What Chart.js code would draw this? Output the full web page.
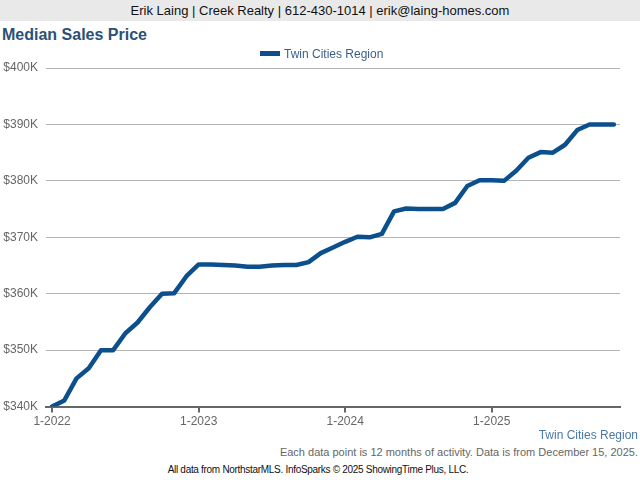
<!DOCTYPE html>
<html>
<head>
<meta charset="utf-8">
<script src="https://cdn.jsdelivr.net/npm/chart.js@4.4.1/dist/chart.umd.min.js"></script>
<style>
  body { margin: 0; width: 640px; height: 480px; background: #fff; font-family: "Liberation Sans", Arial, sans-serif; position: relative; overflow: hidden; }
  #header { position: absolute; left: 0; top: 0; width: 640px; height: 21px; background: #e9e9e9; color: #111; font-size: 13px; line-height: 21px; text-align: center; }
  #title { position: absolute; left: 2px; top: 26px; font-size: 16px; font-weight: bold; color: #2c4f77; }
  #legend { position: absolute; left: 260px; top: 46px; height: 16px; font-size: 12px; line-height: 16px; color: #3c5f8c; white-space: nowrap; }
  #legend span.sw { display: inline-block; width: 20px; height: 5px; background: #0b4f8c; vertical-align: middle; margin-right: 4px; position: relative; top: -1px; }
  #wrap { position: absolute; left: 0; top: 41px; width: 640px; height: 390px; }
  #region { position: absolute; right: 2px; top: 428px; font-size: 12px; color: #4a78a8; }
  #note { position: absolute; right: 2px; top: 446px; font-size: 11px; color: #666; }
  #credit { position: absolute; left: 0; width: 636px; top: 464px; font-size: 10px; color: #111; text-align: center; letter-spacing: -0.3px; }
</style>
</head>
<body>
<div id="header">Erik Laing | Creek Realty | 612-430-1014 | erik@laing-homes.com</div>
<div id="title">Median Sales Price</div>
<div id="wrap"><canvas id="priceChart" width="640" height="390"></canvas></div>
<div id="legend"><span class="sw"></span><span id="legendText"></span></div>
<div id="region">Twin Cities Region</div>
<div id="note">Each data point is 12 months of activity. Data is from December 15, 2025.</div>
<div id="credit">All data from NorthstarMLS. InfoSparks © 2025 ShowingTime Plus, LLC.</div>
<script>
const months = [
    '1-2022', '2-2022', '3-2022', '4-2022', '5-2022', '6-2022', '7-2022', '8-2022', '9-2022', '10-2022', '11-2022', '12-2022',
    '1-2023', '2-2023', '3-2023', '4-2023', '5-2023', '6-2023', '7-2023', '8-2023', '9-2023', '10-2023', '11-2023', '12-2023',
    '1-2024', '2-2024', '3-2024', '4-2024', '5-2024', '6-2024', '7-2024', '8-2024', '9-2024', '10-2024', '11-2024', '12-2024',
    '1-2025', '2-2025', '3-2025', '4-2025', '5-2025', '6-2025', '7-2025', '8-2025', '9-2025', '10-2025', '11-2025',
];

// median sales price, thousands of dollars
const twinCities = [
    340, 341.1, 345, 346.8, 350, 350, 353, 354.9, 357.6, 360, 360.1, 363.1,
    365.2, 365.2, 365.1, 365, 364.8, 364.8, 365, 365.1, 365.1, 365.6, 367.2, 368.2,
    369.2, 370.1, 370, 370.6, 374.6, 375.1, 375, 375, 375, 376.1, 379.1, 380.1,
    380.1, 380, 381.8, 384.1, 385.1, 385, 386.4, 389, 390, 390, 390,
];

const seriesName = 'Twin Cities Region';
const yMin = 340;
const yMax = 400;
const yStep = 10;

const lineColor = '#0b4f8c';
const fontFamily = '"Liberation Sans", Arial, sans-serif';

document.getElementById('legendText').textContent = seriesName;

const ctx = document.getElementById('priceChart').getContext('2d');

new Chart(ctx, {
    type: 'line',
    data: {
        labels: months,
        datasets: [
            {
                label: seriesName,
                data: twinCities,
                borderColor: lineColor,
                backgroundColor: lineColor,
                borderWidth: 4.5,
                borderCapStyle: 'round',
                borderJoinStyle: 'round',
                pointRadius: 0,
                tension: 0,
                fill: false,
            },
        ],
    },
    options: {
        responsive: false,
        animation: false,
        layout: { padding: { left: 0, right: 20, top: 27, bottom: 0 } },
        plugins: {
            tooltip: { enabled: false },
            legend: { display: false },
        },
        scales: {
            x: {
                type: 'category',
                offset: true,
                border: { color: '#666', width: 2 },
                grid: {
                    offset: false,
                    drawOnChartArea: false,
                    color: '#666',
                    lineWidth: 2,
                    tickLength: 6,
                },
                ticks: {
                    autoSkip: false,
                    maxRotation: 0,
                    color: '#666',
                    padding: 2,
                    font: { family: fontFamily, size: 12 },
                    callback: function (value, index) {
                        const l = months[index];
                        return l.startsWith('1-') ? l : null;
                    },
                },
            },
            y: {
                min: yMin,
                max: yMax,
                border: { display: false },
                grid: { color: '#b4b4b4', lineWidth: 1, drawTicks: false },
                afterFit: function (scale) { scale.width = 46; },
                ticks: {
                    stepSize: yStep,
                    color: '#666',
                    padding: 8,
                    font: { family: fontFamily, size: 12 },
                    callback: function (v) { return '$' + v + 'K'; },
                },
            },
        },
    },
});
</script>
</body>
</html>
